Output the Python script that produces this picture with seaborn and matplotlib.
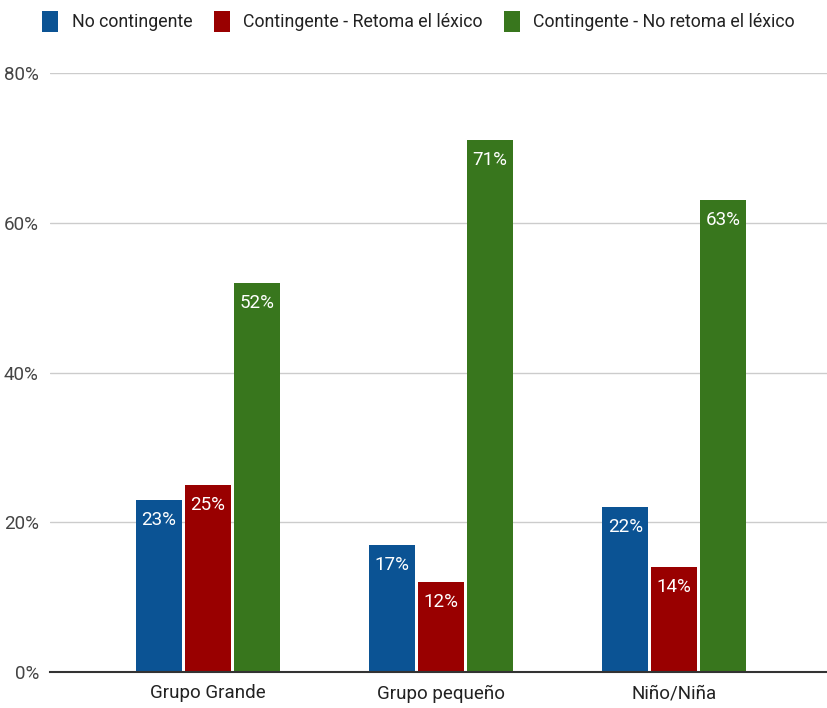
import matplotlib
matplotlib.use("Agg")
import matplotlib.pyplot as plt
import seaborn as sns
import pandas as pd
from matplotlib.patches import Patch

categories = ["Grupo Grande", "Grupo pequeño", "Niño/Niña"]
series_names = ["No contingente", "Contingente - Retoma el léxico", "Contingente - No retoma el léxico"]
no_contingente = [23, 17, 22]
retoma = [25, 12, 14]
no_retoma = [52, 71, 63]
y_ticks = [0, 20, 40, 60, 80]
colors = ["#0b5394", "#990000", "#38761d"]

rows = []
for name, vals in zip(series_names, [no_contingente, retoma, no_retoma]):
    for c, v in zip(categories, vals):
        rows.append({"cat": c, "serie": name, "val": v})
df = pd.DataFrame(rows)

sns.set_theme(style="white")
plt.rcParams["font.family"] = ["Roboto", "DejaVu Sans"]

fig = plt.figure(figsize=(8.28, 7.08), dpi=100)
ax = fig.add_axes([50/828, 36/708, 1 - 50/828, (672-73)/708])

sns.barplot(data=df, x="cat", y="val", hue="serie", palette=colors,
            width=0.63, gap=0.06, saturation=1, ax=ax, legend=False,
            edgecolor="none", linewidth=0)

ax.set_ylim(0, 80)
ax.set_xlim(-0.678, 2.66)
ax.set_yticks(y_ticks)
ax.set_yticklabels([f"{t}%" for t in y_ticks], fontsize=13.5, color="#444444")
ax.tick_params(axis="x", labelsize=13.5, labelcolor="#222222", length=0, pad=9)
ax.tick_params(axis="y", length=0, pad=8)
ax.set_xlabel("")
ax.set_ylabel("")
for t in y_ticks[1:]:
    ax.axhline(t, color="#cccccc", linewidth=1, zorder=0)
for s in ["top", "right", "left"]:
    ax.spines[s].set_visible(False)
ax.spines["bottom"].set_color("#333333")
ax.spines["bottom"].set_linewidth(1.5)

for container in ax.containers:
    for bar in container:
        h = bar.get_height()
        ax.annotate(f"{h:.0f}%", (bar.get_x() + bar.get_width()/2, h),
                    xytext=(0, -8), textcoords="offset points",
                    ha="center", va="top", color="white", fontsize=13.5)

handles = [Patch(facecolor=c, edgecolor="none") for c in colors]
fig.legend(handles, series_names, loc="upper left", bbox_to_anchor=(29/828, 1.003),
           ncol=3, frameon=False, fontsize=12.8, handlelength=0.9, handleheight=1.4,
           handletextpad=0.75, columnspacing=1.2, labelcolor="#222222",
           borderaxespad=0.35)

fig.savefig("out.png", dpi=100)
